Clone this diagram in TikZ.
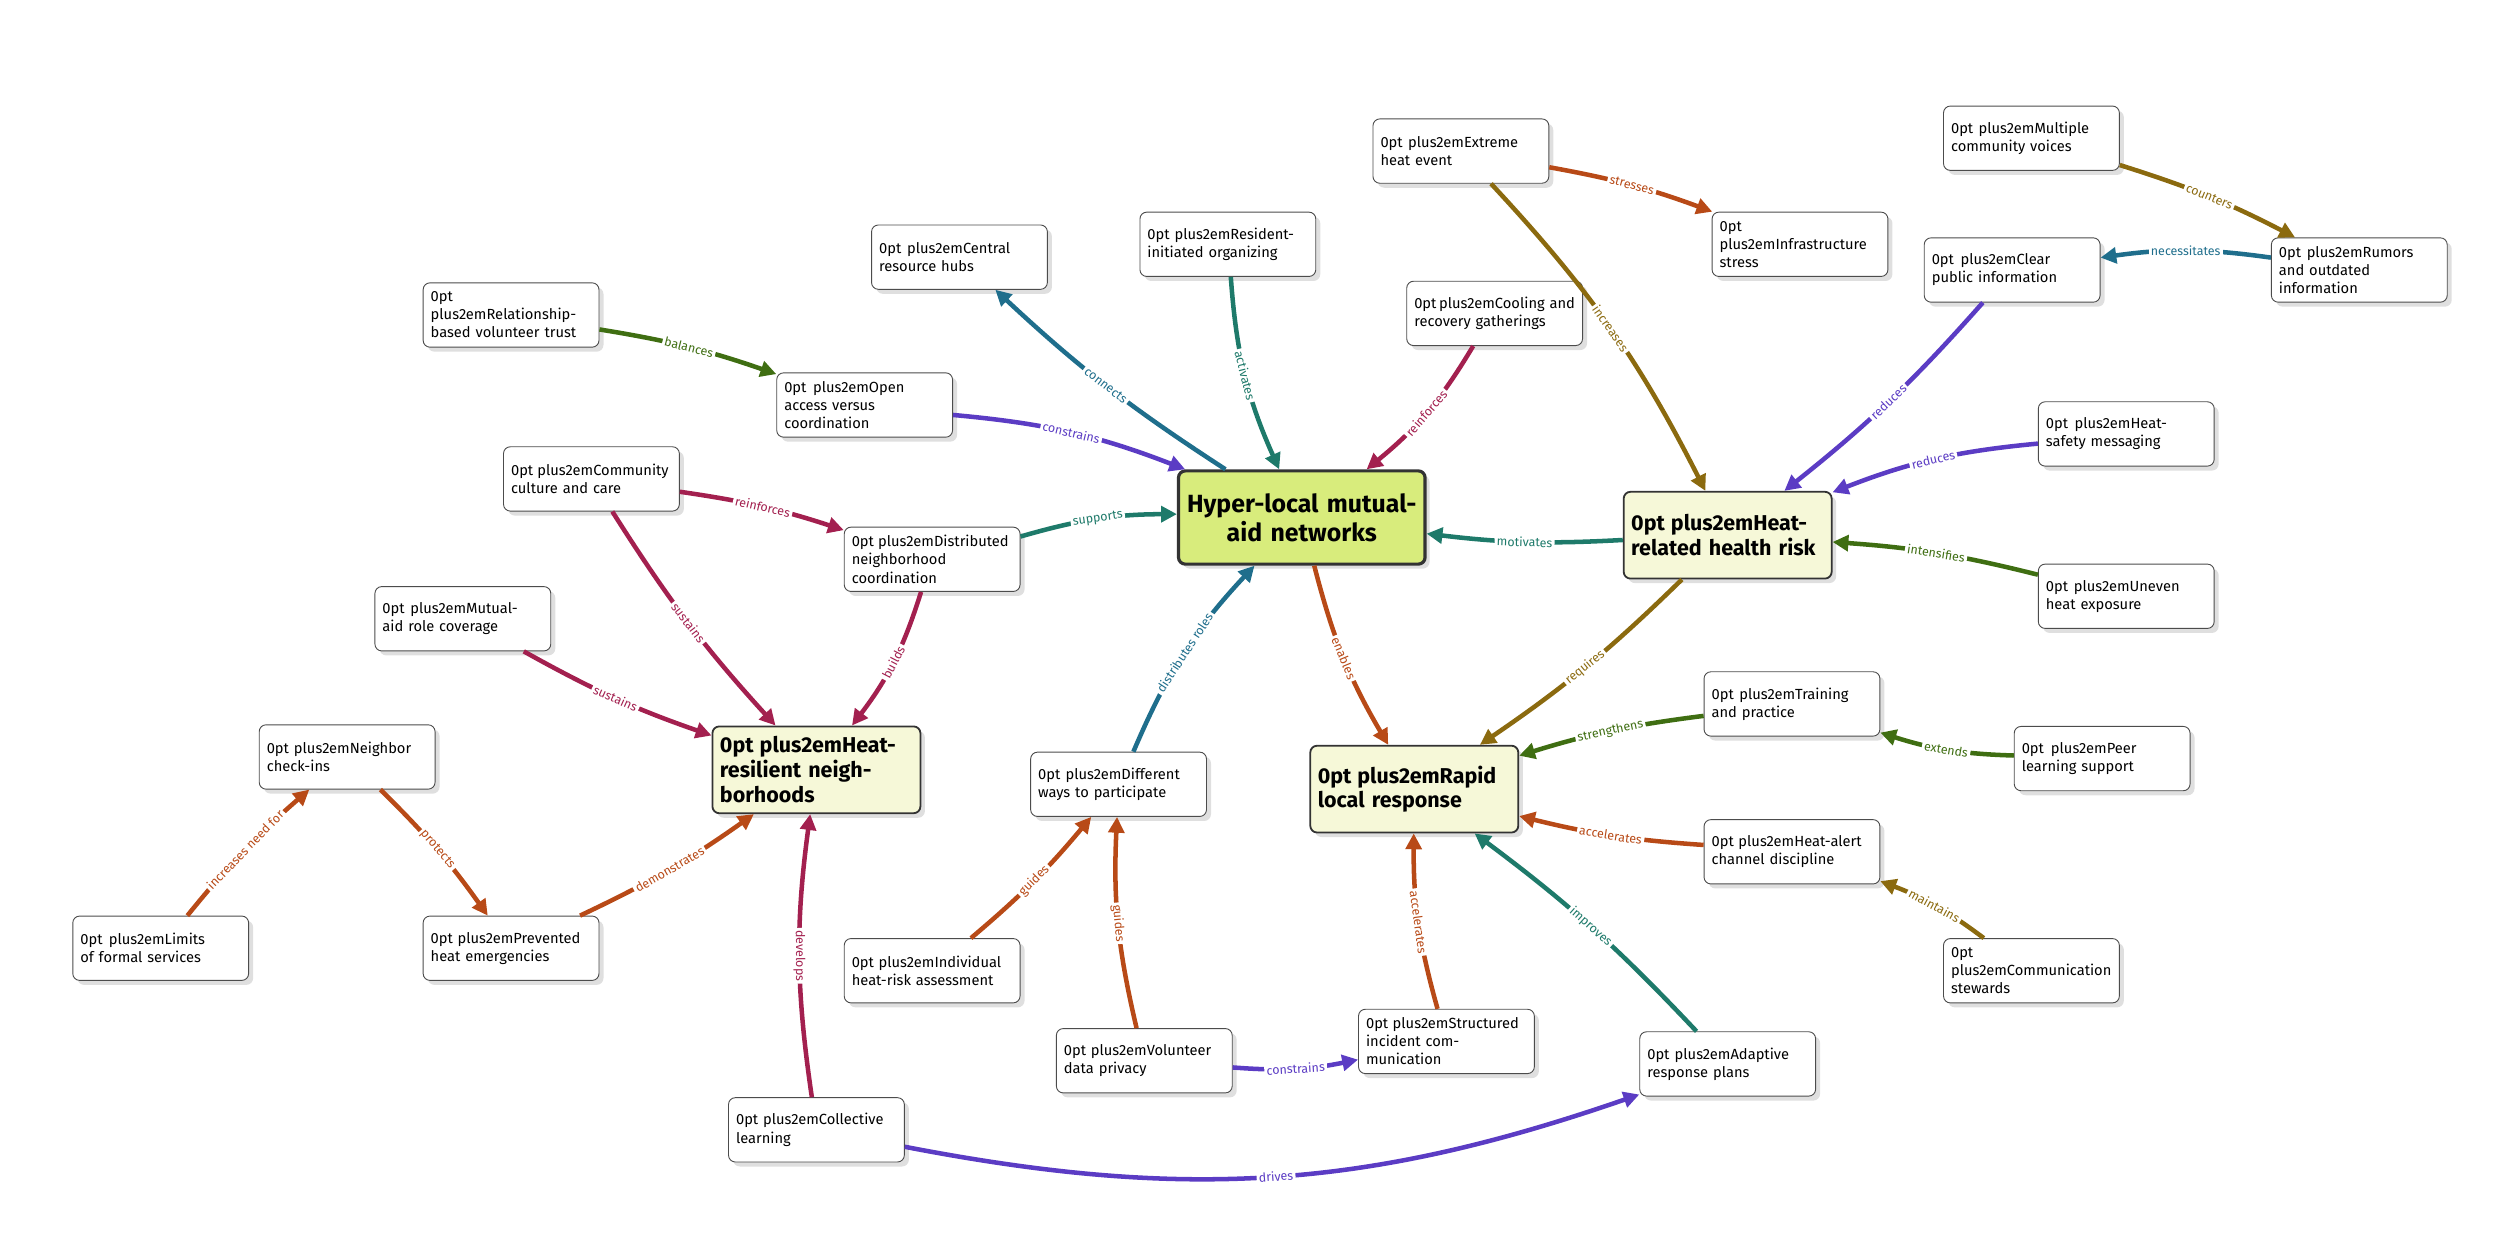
\documentclass[tikz,border=0pt]{standalone}
\usepackage{fontspec}
\setmainfont{Fira Sans}
\usetikzlibrary{arrows.meta,shadows}
\definecolor{cpurple}{HTML}{5B3CC4}
\definecolor{cteal}{HTML}{1E7A6A}
\definecolor{cblue}{HTML}{1F6E8C}
\definecolor{cmaroon}{HTML}{A3204F}
\definecolor{corange}{HTML}{B84A17}
\definecolor{colive}{HTML}{8B6A0F}
\definecolor{cgreen}{HTML}{3F6E12}
\definecolor{hubfill}{HTML}{D8EC7C}
\definecolor{corefill}{HTML}{F6F8D8}
\tikzset{
  box/.style={draw=black!70,fill=white,rounded corners=3pt,align=center,
    text width=2.5cm,minimum height=1cm,font=\fontsize{6.5}{8}\selectfont\hyphenpenalty=10000\relax,
    drop shadow={opacity=0.25,shadow xshift=2pt,shadow yshift=-2pt}},
  core/.style={box,fill=corefill,draw=black!80,line width=0.8pt,text width=3cm,minimum height=1.35cm,
    font=\fontsize{9.5}{11}\selectfont\bfseries\hyphenpenalty=10000\relax},
  hub/.style={core,fill=hubfill,line width=1.4pt,text width=3.6cm,minimum height=1.45cm,
    font=\fontsize{11}{13}\selectfont\bfseries},
  link/.style={line width=2pt,-{Triangle[length=7pt,width=7pt]},draw=#1},
  lbl/.style={sloped,midway,fill=white,inner sep=1pt,font=\fontsize{5.5}{6}\selectfont,text=#1}
}
\begin{document}
\begin{tikzpicture}[x=0.025cm,y=-0.025cm]
\useasboundingbox (0,0) rectangle (1568,778);
% core nodes
\node[hub] (H) at (810,322) {Hyper-local mutual-aid networks};
\node[core] (R) at (1075,333) {Heat-related health risk};
\node[core] (N) at (508,479) {Heat-resilient neighborhoods};
\node[core] (L) at (880,491) {Rapid local response};
% outer nodes
\node[box] (ext) at (909,94) {Extreme heat event};
\node[box] (inf) at (1120,152) {Infrastructure stress};
\node[box] (voi) at (1264,86) {Multiple community voices};
\node[box] (rum) at (1468,168) {Rumors and outdated information};
\node[box] (clr) at (1252,168) {Clear public information};
\node[box] (saf) at (1323,270) {Heat-safety messaging};
\node[box] (une) at (1323,371) {Uneven heat exposure};
\node[box] (trn) at (1115,438) {Training and practice};
\node[box] (peer) at (1308,472) {Peer learning support};
\node[box] (alert) at (1115,530) {Heat-alert channel discipline};
\node[box] (stw) at (1264,604) {Communication stewards};
\node[box] (adp) at (1075,662) {Adaptive response plans};
\node[box] (sic) at (900,648) {Structured incident communication};
\node[box] (vdp) at (712,660) {Volunteer data privacy};
\node[box] (ind) at (580,604) {Individual heat-risk assessment};
\node[box] (dif) at (696,488) {Different ways to participate};
\node[box] (col) at (508,703) {Collective learning};
\node[box] (prv) at (318,590) {Prevented heat emergencies};
\node[box] (lim) at (100,590) {Limits of formal services};
\node[box] (chk) at (216,471) {Neighbor check-ins};
\node[box] (mar) at (288,385) {Mutual-aid role coverage};
\node[box] (cul) at (368,298) {Community culture and care};
\node[box] (dis) at (580,348) {Distributed neighborhood coordination};
\node[box] (rel) at (318,196) {Relationship-based volunteer trust};
\node[box] (opn) at (538,252) {Open access versus coordination};
\node[box] (crh) at (597,160) {Central resource hubs};
\node[box] (res) at (764,152) {Resident-initiated organizing};
\node[box] (cool) at (930,195) {Cooling and recovery gatherings};
% links
\draw[link=cblue] (H) to[bend left=5] node[lbl=cblue]{connects} (crh);
\draw[link=cteal] (res) to[bend right=10] node[lbl=cteal]{activates} (H);
\draw[link=cmaroon] (cool) to[bend left=10] node[lbl=cmaroon]{reinforces} (H);
\draw[link=cpurple] (opn) to[bend left=8] node[lbl=cpurple]{constrains} (H);
\draw[link=cgreen] (rel) to[bend left=5] node[lbl=cgreen]{balances} (opn);
\draw[link=cteal] (dis) to[bend left=8] node[lbl=cteal]{supports} (H);
\draw[link=cmaroon] (cul) to[bend left=5] node[lbl=cmaroon]{reinforces} (dis);
\draw[link=cmaroon] (cul) to[bend right=5] node[lbl=cmaroon]{sustains} (N);
\draw[link=cmaroon] (dis) to[bend left=10] node[lbl=cmaroon]{builds} (N);
\draw[link=cmaroon] (mar) to[bend right=5] node[lbl=cmaroon]{sustains} (N);
\draw[link=corange] (prv) to[bend right=5] node[lbl=corange]{demonstrates} (N);
\draw[link=corange] (chk) to[bend left=5] node[lbl=corange]{protects} (prv);
\draw[link=corange] (lim) to[bend left=5] node[lbl=corange]{increases need for} (chk);
\draw[link=cmaroon] (col) to[bend left=8] node[lbl=cmaroon]{develops} (N);
\draw[link=cpurple] (col) to[bend right=15] node[lbl=cpurple]{drives} (adp);
\draw[link=cblue] (dif) to[bend left=10] node[lbl=cblue]{distributes roles} (H);
\draw[link=corange] (ind) to[bend right=5] node[lbl=corange]{guides} (dif);
\draw[link=corange] (vdp) to[bend left=8] node[lbl=corange]{guides} (dif);
\draw[link=cpurple] (vdp) to[bend right=8] node[lbl=cpurple]{constrains} (sic);
\draw[link=corange] (sic) to[bend left=8] node[lbl=corange]{accelerates} (L);
\draw[link=cteal] (adp) to[bend right=5] node[lbl=cteal]{improves} (L);
\draw[link=corange] (H) to[bend right=8] node[lbl=corange]{enables} (L);
\draw[link=cteal] (R) to[bend left=5] node[lbl=cteal]{motivates} (H);
\draw[link=colive] (R) to[bend left=5] node[lbl=colive]{requires} (L);
\draw[link=cgreen] (trn) to[bend right=5] node[lbl=cgreen]{strengthens} (L);
\draw[link=cgreen] (peer) to[bend left=8] node[lbl=cgreen]{extends} (trn);
\draw[link=corange] (alert) to[bend left=5] node[lbl=corange]{accelerates} (L);
\draw[link=colive] (stw) to[bend right=8] node[lbl=colive]{maintains} (alert);
\draw[link=corange] (ext) to[bend left=5] node[lbl=corange]{stresses} (inf);
\draw[link=colive] (ext) to[bend left=8] node[lbl=colive]{increases} (R);
\draw[link=colive] (voi) to[bend left=5] node[lbl=colive]{counters} (rum);
\draw[link=cblue] (rum) to[bend right=8] node[lbl=cblue]{necessitates} (clr);
\draw[link=cpurple] (clr) to[bend left=5] node[lbl=cpurple]{reduces} (R);
\draw[link=cpurple] (saf) to[bend right=8] node[lbl=cpurple]{reduces} (R);
\draw[link=cgreen] (une) to[bend right=5] node[lbl=cgreen]{intensifies} (R);
\end{tikzpicture}
\end{document}
